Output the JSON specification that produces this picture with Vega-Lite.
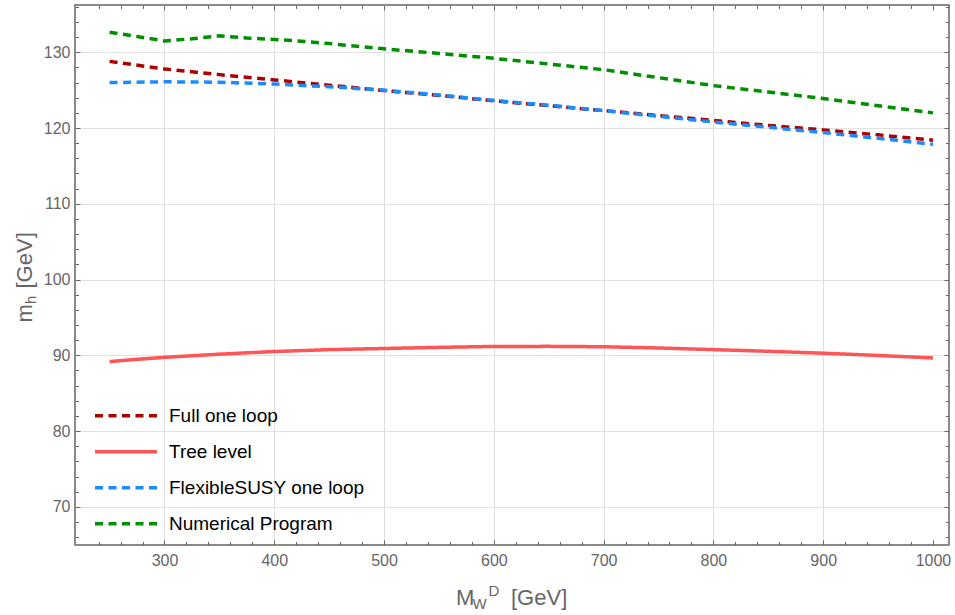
{
  "$schema": "https://vega.github.io/schema/vega-lite/v6.json",
  "width": 874,
  "height": 540,
  "autosize": {"type": "none"},
  "padding": {"left": 75, "top": 5, "right": 6, "bottom": 70},
  "background": "white",
  "config": {
    "view": {"stroke": "#666666", "strokeWidth": 1.5},
    "font": "Liberation Sans"
  },
  "data": {
    "values": [
      {"series": "Full one loop", "x": 250, "y": 128.8},
      {"series": "Full one loop", "x": 300, "y": 127.8},
      {"series": "Full one loop", "x": 350, "y": 127.05},
      {"series": "Full one loop", "x": 400, "y": 126.35},
      {"series": "Full one loop", "x": 450, "y": 125.65},
      {"series": "Full one loop", "x": 500, "y": 124.95},
      {"series": "Full one loop", "x": 550, "y": 124.3},
      {"series": "Full one loop", "x": 600, "y": 123.6},
      {"series": "Full one loop", "x": 650, "y": 122.95},
      {"series": "Full one loop", "x": 700, "y": 122.3},
      {"series": "Full one loop", "x": 750, "y": 121.65},
      {"series": "Full one loop", "x": 800, "y": 121.0},
      {"series": "Full one loop", "x": 850, "y": 120.35},
      {"series": "Full one loop", "x": 900, "y": 119.75},
      {"series": "Full one loop", "x": 950, "y": 119.1},
      {"series": "Full one loop", "x": 1000, "y": 118.4},
      {"series": "Tree level", "x": 250, "y": 89.17},
      {"series": "Tree level", "x": 275, "y": 89.47},
      {"series": "Tree level", "x": 300, "y": 89.73},
      {"series": "Tree level", "x": 350, "y": 90.15},
      {"series": "Tree level", "x": 400, "y": 90.5},
      {"series": "Tree level", "x": 450, "y": 90.75},
      {"series": "Tree level", "x": 500, "y": 90.9},
      {"series": "Tree level", "x": 550, "y": 91.05},
      {"series": "Tree level", "x": 600, "y": 91.17},
      {"series": "Tree level", "x": 650, "y": 91.18},
      {"series": "Tree level", "x": 700, "y": 91.13},
      {"series": "Tree level", "x": 750, "y": 90.97},
      {"series": "Tree level", "x": 800, "y": 90.75},
      {"series": "Tree level", "x": 850, "y": 90.53},
      {"series": "Tree level", "x": 900, "y": 90.28},
      {"series": "Tree level", "x": 950, "y": 89.98},
      {"series": "Tree level", "x": 1000, "y": 89.65},
      {"series": "FlexibleSUSY one loop", "x": 250, "y": 126.0},
      {"series": "FlexibleSUSY one loop", "x": 300, "y": 126.1},
      {"series": "FlexibleSUSY one loop", "x": 350, "y": 126.05},
      {"series": "FlexibleSUSY one loop", "x": 400, "y": 125.8},
      {"series": "FlexibleSUSY one loop", "x": 450, "y": 125.45},
      {"series": "FlexibleSUSY one loop", "x": 500, "y": 125.0},
      {"series": "FlexibleSUSY one loop", "x": 550, "y": 124.35},
      {"series": "FlexibleSUSY one loop", "x": 600, "y": 123.65},
      {"series": "FlexibleSUSY one loop", "x": 650, "y": 123.0},
      {"series": "FlexibleSUSY one loop", "x": 700, "y": 122.3},
      {"series": "FlexibleSUSY one loop", "x": 750, "y": 121.55},
      {"series": "FlexibleSUSY one loop", "x": 800, "y": 120.8},
      {"series": "FlexibleSUSY one loop", "x": 850, "y": 120.1},
      {"series": "FlexibleSUSY one loop", "x": 900, "y": 119.4},
      {"series": "FlexibleSUSY one loop", "x": 950, "y": 118.65},
      {"series": "FlexibleSUSY one loop", "x": 1000, "y": 117.85},
      {"series": "Numerical Program", "x": 250, "y": 132.65},
      {"series": "Numerical Program", "x": 275, "y": 132.08},
      {"series": "Numerical Program", "x": 300, "y": 131.5},
      {"series": "Numerical Program", "x": 325, "y": 131.78},
      {"series": "Numerical Program", "x": 350, "y": 132.17},
      {"series": "Numerical Program", "x": 375, "y": 131.88},
      {"series": "Numerical Program", "x": 400, "y": 131.7},
      {"series": "Numerical Program", "x": 425, "y": 131.45},
      {"series": "Numerical Program", "x": 450, "y": 131.15},
      {"series": "Numerical Program", "x": 500, "y": 130.45},
      {"series": "Numerical Program", "x": 550, "y": 129.85},
      {"series": "Numerical Program", "x": 600, "y": 129.2},
      {"series": "Numerical Program", "x": 650, "y": 128.45},
      {"series": "Numerical Program", "x": 700, "y": 127.7},
      {"series": "Numerical Program", "x": 750, "y": 126.65},
      {"series": "Numerical Program", "x": 800, "y": 125.6},
      {"series": "Numerical Program", "x": 850, "y": 124.75},
      {"series": "Numerical Program", "x": 900, "y": 123.9},
      {"series": "Numerical Program", "x": 950, "y": 122.95},
      {"series": "Numerical Program", "x": 1000, "y": 122.0}
    ]
  },
  "resolve": {"axis": {"x": "independent", "y": "independent"}},
  "layer": [
    {
      "mark": {"type": "line", "strokeWidth": 3.5},
      "encoding": {
        "x": {
          "field": "x", "type": "quantitative",
          "scale": {"domain": [218.5, 1014.6], "nice": false, "zero": false},
          "axis": {
            "orient": "bottom",
            "values": [240,260,280,300,320,340,360,380,400,420,440,460,480,500,520,540,560,580,600,620,640,660,680,700,720,740,760,780,800,820,840,860,880,900,920,940,960,980,1000],
            "format": "d",
            "labelExpr": "datum.value % 100 === 0 ? datum.label : ''",
            "labelOverlap": false,
            "labelFlush": false,
            "labelFontSize": 16,
            "labelColor": "#666666",
            "labelPadding": 12,
            "grid": true,
            "gridColor": "#dedede",
            "gridWidth": 1,
            "gridOpacity": {"condition": {"test": "datum.value % 100 === 0 && datum.value < 1000", "value": 1}, "value": 0},
            "domain": false,
            "tickColor": "#666666",
            "tickSize": {"condition": {"test": "datum.value % 100 === 0", "value": -5}, "value": -3.5},
            "title": "M",
            "titleFontSize": 22,
            "titleFontWeight": "normal",
            "titleColor": "#666666",
            "titleAlign": "left",
            "titleBaseline": "alphabetic",
            "titleX": 380.4,
            "titleY": 59.5
          }
        },
        "y": {
          "field": "y", "type": "quantitative",
          "scale": {"domain": [64.96, 136.24], "nice": false, "zero": false},
          "axis": {
            "orient": "left",
            "values": [66,68,70,72,74,76,78,80,82,84,86,88,90,92,94,96,98,100,102,104,106,108,110,112,114,116,118,120,122,124,126,128,130,132,134,136],
            "labelExpr": "datum.value % 10 === 0 ? datum.label : ''",
            "labelOverlap": false,
            "labelFlush": false,
            "labelFontSize": 16,
            "labelColor": "#666666",
            "labelPadding": 10,
            "grid": true,
            "gridColor": "#e2e2e2",
            "gridWidth": 1,
            "gridOpacity": {"condition": {"test": "datum.value % 10 === 0", "value": 1}, "value": 0},
            "domain": false,
            "tickColor": "#666666",
            "tickSize": {"condition": {"test": "datum.value % 10 === 0", "value": -5}, "value": -3.5},
            "title": "m",
            "titleFontSize": 22,
            "titleFontWeight": "normal",
            "titleColor": "#666666",
            "titleAngle": 270,
            "titleAlign": "left",
            "titleBaseline": "alphabetic",
            "titleX": -43.5,
            "titleY": 317
          }
        },
        "color": {
          "field": "series", "type": "nominal",
          "scale": {
            "domain": ["Full one loop", "Tree level", "FlexibleSUSY one loop", "Numerical Program"],
            "range": ["#aa0000", "#ff5555", "#1a8cff", "#008f00"]
          },
          "legend": {
            "title": null, "orient": "none", "legendX": 18, "legendY": 400.7,
            "symbolType": "stroke", "symbolSize": 3844, "symbolStrokeWidth": 3.5,
            "labelFontSize": 19, "labelColor": "#000000", "labelOffset": 10,
            "clipHeight": 20, "rowPadding": 16, "padding": 0, "labelLimit": 400
          }
        },
        "strokeDash": {
          "field": "series", "type": "nominal",
          "scale": {
            "domain": ["Full one loop", "Tree level", "FlexibleSUSY one loop", "Numerical Program"],
            "range": [[8, 5.5], [1, 0], [8, 5.5], [8, 5.5]]
          },
          "legend": {
            "title": null, "orient": "none", "legendX": 18, "legendY": 400.7,
            "symbolType": "stroke", "symbolSize": 3844, "symbolStrokeWidth": 3.5,
            "labelFontSize": 19, "labelColor": "#000000", "labelOffset": 10,
            "clipHeight": 20, "rowPadding": 16, "padding": 0, "labelLimit": 400
          }
        }
      }
    },
    {
      "mark": {"type": "line", "opacity": 0},
      "encoding": {
        "x": {
          "field": "x", "type": "quantitative",
          "axis": {
            "orient": "top",
            "values": [240,260,280,300,320,340,360,380,400,420,440,460,480,500,520,540,560,580,600,620,640,660,680,700,720,740,760,780,800,820,840,860,880,900,920,940,960,980,1000],
            "labels": false, "grid": false, "domain": false, "title": null,
            "tickColor": "#666666",
            "tickSize": {"condition": {"test": "datum.value % 100 === 0", "value": -5}, "value": -3.5}
          }
        },
        "y": {
          "field": "y", "type": "quantitative",
          "axis": {
            "orient": "right",
            "values": [66,68,70,72,74,76,78,80,82,84,86,88,90,92,94,96,98,100,102,104,106,108,110,112,114,116,118,120,122,124,126,128,130,132,134,136],
            "labels": false, "grid": false, "domain": false, "title": null,
            "tickColor": "#666666",
            "tickSize": {"condition": {"test": "datum.value % 10 === 0", "value": -5}, "value": -3.5}
          }
        }
      }
    },
    {
      "mark": {"type": "line", "opacity": 0},
      "encoding": {
        "x": {
          "field": "x", "type": "quantitative",
          "axis": {
            "orient": "bottom", "labels": false, "ticks": false, "grid": false, "domain": false,
            "title": "W", "titleFontSize": 15, "titleFontWeight": "normal", "titleColor": "#666666",
            "titleAlign": "left", "titleBaseline": "alphabetic", "titleX": 397, "titleY": 63.5
          }
        },
        "y": {
          "field": "y", "type": "quantitative",
          "axis": {
            "orient": "left", "labels": false, "ticks": false, "grid": false, "domain": false,
            "title": "h", "titleFontSize": 15, "titleFontWeight": "normal", "titleColor": "#666666",
            "titleAngle": 270, "titleAlign": "left", "titleBaseline": "alphabetic", "titleX": -40, "titleY": 298.5
          }
        }
      }
    },
    {
      "mark": {"type": "line", "opacity": 0},
      "encoding": {
        "x": {
          "field": "x", "type": "quantitative",
          "axis": {
            "orient": "bottom", "labels": false, "ticks": false, "grid": false, "domain": false,
            "title": "D", "titleFontSize": 15, "titleFontWeight": "normal", "titleColor": "#666666",
            "titleAlign": "left", "titleBaseline": "alphabetic", "titleX": 413, "titleY": 50
          }
        },
        "y": {
          "field": "y", "type": "quantitative",
          "axis": {
            "orient": "left", "labels": false, "ticks": false, "grid": false, "domain": false,
            "title": "[GeV]", "titleFontSize": 22, "titleFontWeight": "normal", "titleColor": "#666666",
            "titleAngle": 270, "titleAlign": "left", "titleBaseline": "alphabetic", "titleX": -43.5, "titleY": 283
          }
        }
      }
    },
    {
      "mark": {"type": "line", "opacity": 0},
      "encoding": {
        "x": {
          "field": "x", "type": "quantitative",
          "axis": {
            "orient": "bottom", "labels": false, "ticks": false, "grid": false, "domain": false,
            "title": "[GeV]", "titleFontSize": 22, "titleFontWeight": "normal", "titleColor": "#666666",
            "titleAlign": "left", "titleBaseline": "alphabetic", "titleX": 435.5, "titleY": 59.5
          }
        },
        "y": {"field": "y", "type": "quantitative", "axis": null}
      }
    }
  ]
}
